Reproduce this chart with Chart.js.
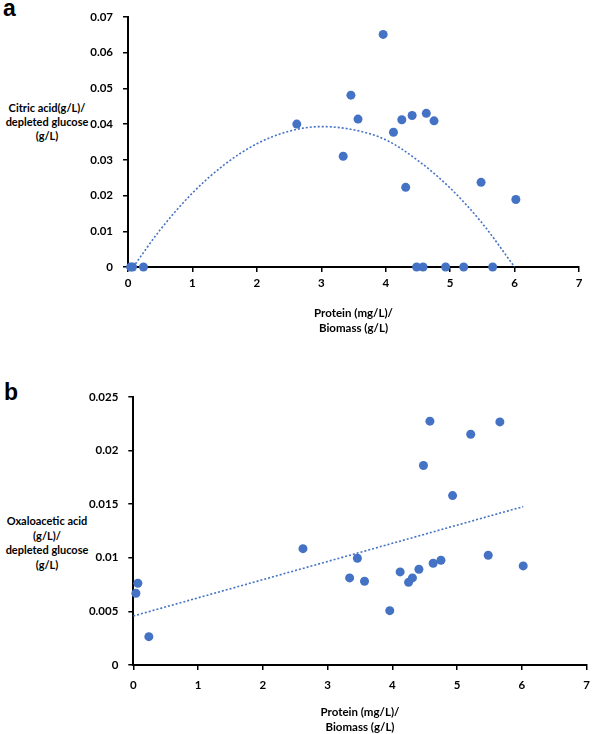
<!DOCTYPE html>
<html>
<head>
<meta charset="utf-8">
<script src="https://cdn.jsdelivr.net/npm/chart.js@4.4.1/dist/chart.umd.min.js"></script>
<style>
  body { margin: 0; background: #fff; overflow: hidden; width: 598px; height: 734px; position: relative; font-family: Lato, "Open Sans", sans-serif; }
  .box { position: absolute; left: 0; width: 598px; }
  .letter { position: absolute; font: bold 23px "Liberation Sans", Arial, sans-serif; color: #000; }
  .ytitle { position: absolute; width: 94px; text-align: center; font-weight: bold; font-size: 11px; color: #000; }
</style>
</head>
<body>
<div class="letter" style="left:3px; top:-5px;">a</div>
<div class="ytitle" style="left:0px; top:101px; line-height:14px;">Citric acid(g/L)/<br>depleted glucose<br>(g/L)</div>
<div class="box" style="top:0px; height:350px;"><canvas id="chartA"></canvas></div>

<div class="letter" style="left:4px; top:379px;">b</div>
<div class="ytitle" style="left:0px; top:514px; line-height:14.5px;">Oxaloacetic acid<br>(g/L)/<br>depleted glucose<br>(g/L)</div>
<div class="box" style="top:380px; height:380px;"><canvas id="chartB"></canvas></div>

<script>
"use strict";

// protein (mg/L) / biomass (g/L), same samples in both panels
const proteinRatio = [0.04, 0.07, 0.24, 2.62, 3.34, 3.46, 3.57, 3.96, 4.12, 4.25, 4.31, 4.41, 4.48, 4.58, 4.63, 4.75, 4.93, 5.21, 5.48, 5.66, 6.02];
const citricAcid = [0, 0, 0, 0.0400, 0.0310, 0.0481, 0.0414, 0.0651, 0.0377, 0.0412, 0.0223, 0.0424, 0, 0, 0.0430, 0.0409, 0, 0, 0.0237, 0, 0.0189];
const oxaloAcid = [0.00669, 0.00762, 0.00264, 0.01085, 0.00812, 0.00995, 0.00781, 0.00507, 0.00868, 0.00771, 0.00812, 0.00893, 0.0186, 0.02274, 0.00949, 0.00977, 0.0158, 0.02152, 0.01023, 0.02267, 0.00924];

// trend lines
const trendAX = [0.08, 0.5, 1, 1.5, 2, 2.5, 3, 3.5, 4, 4.5, 5, 5.5, 6];
const trendAY = [0, 0.0104, 0.0207, 0.0287, 0.0345, 0.0380, 0.0393, 0.0384, 0.0356, 0.0298, 0.0221, 0.0122, 0];
const trendBX = [0, 6.02];
const trendBY = [0.00457, 0.01477];

const xTicks = [0, 1, 2, 3, 4, 5, 6, 7];
const yTicksA = [0, 0.01, 0.02, 0.03, 0.04, 0.05, 0.06, 0.07];
const yTicksB = [0, 0.005, 0.01, 0.015, 0.02, 0.025];

const blue = "#4472C4";
const tickFont = { family: "Lato", size: 11.5, weight: "bold" };

function pairs(xs, ys) {
  let out = [];
  for (let i = 0; i < xs.length; i++) {
    out.push({ x: xs[i], y: ys[i] });
  }
  return out;
}

function makeChart(id, ys, tx, ty, yTicks, opts) {
  return new Chart(document.getElementById(id), {
    type: "scatter",
    data: {
      datasets: [{
        data: pairs(proteinRatio, ys),
        backgroundColor: blue,
        borderWidth: 0,
        pointRadius: 4.5,
        clip: false
      }, {
        data: pairs(tx, ty),
        showLine: true,
        borderColor: blue,
        borderWidth: 1.6,
        borderDash: [2, 2],
        pointRadius: 0,
        tension: 0.4,
        cubicInterpolationMode: "monotone",
        clip: false
      }]
    },
    options: {
      responsive: true,
      maintainAspectRatio: false,
      animation: false,
      events: [],
      layout: { padding: { left: 0, top: opts.top, right: opts.right, bottom: 0 } },
      plugins: { legend: { display: false }, tooltip: { enabled: false } },
      scales: {
        x: {
          type: "linear",
          min: 0,
          max: 7,
          afterBuildTicks: function (scale) { scale.ticks = xTicks.map(v => ({ value: v })); },
          afterFit: function (scale) { scale.height = opts.xHeight; },
          ticks: { color: "#000", font: tickFont, padding: opts.xPad, maxRotation: 0 },
          grid: { drawOnChartArea: false, drawTicks: true, tickLength: 5, color: "#000", lineWidth: 1.5 },
          border: { color: "#000", width: 2 },
          title: {
            display: true,
            text: ["Protein (mg/L)/", "Biomass (g/L)"],
            color: "#000",
            font: { family: "Lato", size: 11.5, weight: "bold", lineHeight: 1.3 },
            padding: { top: 0, bottom: opts.titlePad }
          }
        },
        y: {
          type: "linear",
          min: 0,
          max: yTicks[yTicks.length - 1],
          afterBuildTicks: function (scale) { scale.ticks = yTicks.map(v => ({ value: v })); },
          afterFit: function (scale) { scale.width = opts.yWidth; },
          ticks: {
            color: "#000",
            font: tickFont,
            padding: 10,
            callback: function (v) { return String(Number(v.toFixed(3))); }
          },
          grid: { drawOnChartArea: false, drawTicks: true, tickLength: 5, color: "#000", lineWidth: 1.5 },
          border: { color: "#000", width: 2 }
        }
      }
    }
  });
}

const chartA = makeChart("chartA", citricAcid, trendAX, trendAY, yTicksA,
  { top: 10, right: 19, yWidth: 128, xHeight: 83, xPad: 4, titlePad: 14.5 });
const chartB = makeChart("chartB", oxaloAcid, trendBX, trendBY, yTicksB,
  { top: 16.7, right: 5.3, yWidth: 133.3, xHeight: 95, xPad: 8, titlePad: 25.5 });
</script>
</body>
</html>
